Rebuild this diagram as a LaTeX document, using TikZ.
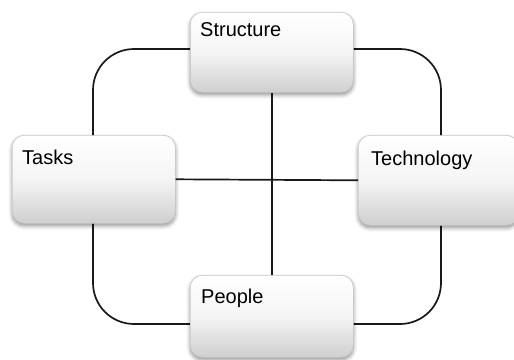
\documentclass[tikz,border=0pt]{standalone}
\usepackage{fontspec}
\setmainfont{Liberation Sans}
\usetikzlibrary{shadows.blur,calc}

\tikzset{
  panel/.style={
    draw=gray!45, line width=0.6pt,
    rounded corners=12pt,
    top color=white, bottom color=gray!38,
    middle color=gray!8,
    blur shadow={shadow xshift=0pt, shadow yshift=-2.5pt,
                 shadow blur steps=6, shadow opacity=45, shadow blur radius=4pt},
    inner sep=0pt, anchor=north west
  },
  caption/.style={font=\fontsize{20}{24}\selectfont, text=black,
    inner sep=0pt, anchor=base west},
  link/.style={draw=black!90, line width=1.7pt}
}

\begin{document}
\begin{tikzpicture}[x=1pt, y=-1pt]
  \useasboundingbox (0,0) rectangle (514,359);

  % outer loop behind the four panels
  \coordinate (loopA) at (93,49);
  \coordinate (loopB) at (441,324);
  \draw[link, rounded corners=41pt] (loopA) rectangle (loopB);

  % the four panels
  \node[panel, minimum width=163pt, minimum height=80pt] (structure) at (190,12) {};
  \node[panel, minimum width=163pt, minimum height=88pt] (tasks) at (12,135) {};
  \node[panel, minimum width=160pt, minimum height=90pt] (technology) at (358,135) {};
  \node[panel, minimum width=163pt, minimum height=82pt] (people) at (190,275) {};

  % cross links between opposite panels
  \draw[link] (structure.south) -- (people.north);
  \draw[link] (tasks.east) -- (technology.west);

  % panel captions
  \node[caption] (structure-text) at ($(structure.north west)+(10,24)$) {Structure};
  \node[caption] (tasks-text) at ($(tasks.north west)+(10,29)$) {Tasks};
  \node[caption] (technology-text) at ($(technology.north west)+(13,30)$) {Technology};
  \node[caption] (people-text) at ($(people.north west)+(11,28)$) {People};
\end{tikzpicture}
\end{document}
